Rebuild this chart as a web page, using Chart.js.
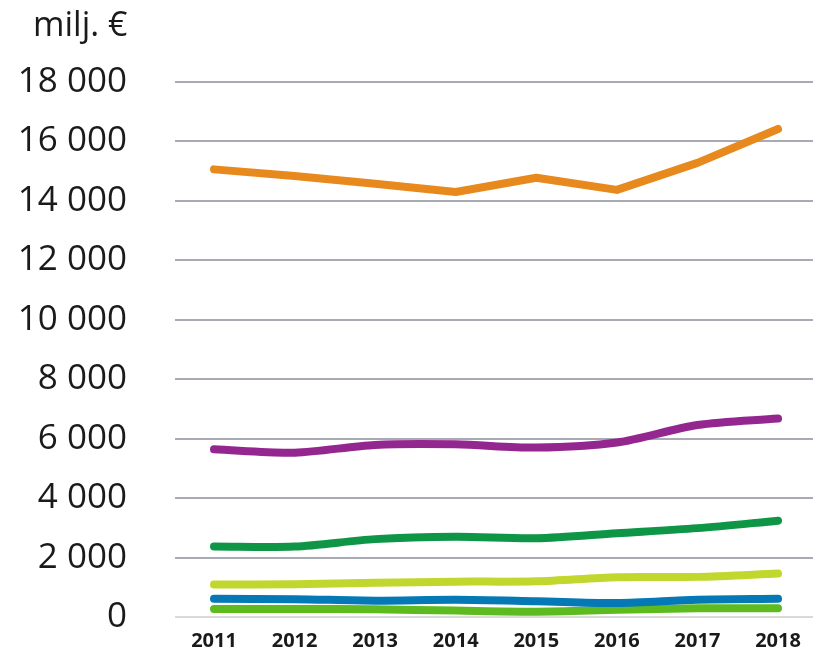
<!DOCTYPE html>
<html>
<head>
<meta charset="utf-8">
<script src="https://cdn.jsdelivr.net/npm/chart.js@4/dist/chart.umd.min.js"></script>
<style>
  body { margin: 0; background: #fff; }
  #wrap { width: 813px; height: 650px; }
</style>
</head>
<body>
<div id="wrap"><canvas id="c" width="813" height="650"></canvas></div>
<script>
// ******************************************************** DATA

var years      = [2011, 2012, 2013, 2014, 2015, 2016, 2017, 2018];
var yTicks     = [0, 2000, 4000, 6000, 8000, 10000, 12000, 14000, 16000, 18000];
var unitLabel  = 'milj. €';

var orangeVals = [15060, 14840, 14580, 14300, 14780, 14370, 15280, 16420];
var purpleVals = [5640, 5530, 5790, 5810, 5700, 5870, 6460, 6680];
var dgreenVals = [2370, 2370, 2620, 2700, 2650, 2820, 2990, 3240];
var limeVals   = [1090, 1100, 1150, 1190, 1200, 1340, 1350, 1460];
var blueVals   = [610, 600, 550, 580, 530, 470, 580, 610];
var greenVals  = [270, 270, 260, 215, 180, 240, 295, 295];

// ******************************************************** CHART

function pts(vals) {
	return years.map(function (y, i) { return { x: y, y: vals[i] }; });
}

function line(label, vals, color, tension) {
	return {
		label: label,
		data: pts(vals),
		borderColor: color,
		backgroundColor: color,
		borderWidth: 8,
		borderCapStyle: 'round',
		borderJoinStyle: 'round',
		pointRadius: 0,
		tension: tension,
		fill: false
	};
}

function spaced(v) {
	return String(v).replace(/\B(?=(\d{3})+(?!\d))/g, ' ');
}

// unit text in the top left corner
var unitPlugin = {
	id: 'unit',
	afterDraw: function (chart) {
		var ctx = chart.ctx;
		ctx.save();
		ctx.font = '34px "Open Sans"';
		ctx.fillStyle = '#1a1a1a';
		ctx.textAlign = 'left';
		ctx.textBaseline = 'alphabetic';
		ctx.fillText(unitLabel, 33, 36);
		ctx.restore();
	}
};

var ctxc = document.getElementById('c').getContext('2d');

new Chart(ctxc, {
	type: 'line',
	data: {
		datasets: [
			line('Oranssi', orangeVals, '#E8891E', 0),
			line('Violetti', purpleVals, '#93278F', 0.3),
			line('Tummanvihreä', dgreenVals, '#0E9646', 0.3),
			line('Keltavihreä', limeVals, '#C1D72E', 0.3),
			line('Sininen', blueVals, '#0479B5', 0.3),
			line('Vihreä', greenVals, '#5DBB1F', 0.3)
		]
	},
	options: {
		responsive: false,
		animation: false,
		layout: { padding: { top: 82, left: 0, right: 0, bottom: 0 } },
		plugins: {
			legend: { display: false },
			tooltip: { enabled: false },
			title: { display: false }
		},
		scales: {
			x: {
				type: 'linear',
				min: 2010.516,
				max: 2018.434,
				grid: { display: false },
				border: { display: false },
				afterFit: function (s) { s.height = 33; },
				ticks: {
					stepSize: 1,
					includeBounds: false,
					padding: 4,
					color: '#1a1a1a',
					font: { family: 'Open Sans', size: 20, weight: 'bold' },
					callback: function (v) { return years.indexOf(v) >= 0 ? String(v) : ''; }
				}
			},
			y: {
				min: yTicks[0],
				max: yTicks[yTicks.length - 1],
				afterFit: function (s) { s.width = 175; },
				afterBuildTicks: function (s) {
					s.ticks = yTicks.map(function (v) { return { value: v }; });
				},
				border: { display: false },
				grid: {
					drawTicks: true,
					tickLength: 48,
					tickColor: 'rgba(0,0,0,0)',
					lineWidth: 2,
					color: function (c) { return c.tick && c.tick.value === 0 ? '#d9d9d9' : '#a8aab4'; }
				},
				ticks: {
					padding: 0,
					color: '#1a1a1a',
					font: { family: 'Open Sans', size: 35 },
					callback: function (v) { return spaced(v); }
				}
			}
		}
	},
	plugins: [unitPlugin]
});
</script>
</body>
</html>
